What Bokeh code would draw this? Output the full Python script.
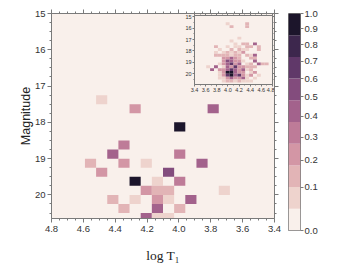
import math
import numpy as np
from bokeh.plotting import figure
from bokeh.models import (Range1d, LinearAxis, FixedTicker,
                          PrintfTickFormatter, CustomJSTickFormatter, GridBox, Label,
                          ColumnDataSource)
from bokeh.embed import file_html
from bokeh.resources import INLINE

# ---------------- data ----------------
main_logT = [4.485, 4.275, 3.785, 3.995, 4.345, 4.415, 3.995, 4.555, 4.345, 4.205,
             3.855, 4.485, 4.065, 4.275, 4.135, 3.995, 4.205, 4.135, 4.065, 3.715,
             4.415, 4.275, 4.135, 4.065, 3.925, 4.345, 4.135, 3.995, 4.205, 4.135, 4.065]
main_mag = [17.375, 17.625, 17.625, 18.125, 18.625, 18.875, 18.875, 19.125, 19.125, 19.125,
            19.125, 19.375, 19.375, 19.625, 19.625, 19.625, 19.875, 19.875, 19.875, 19.875,
            20.125, 20.125, 20.125, 20.125, 20.125, 20.375, 20.375, 20.375, 20.625, 20.625, 20.625]
main_prob = [0.07, 0.22, 0.43, 1.0, 0.32, 0.43, 0.32, 0.14, 0.22, 0.07,
             0.43, 0.22, 0.5, 1.0, 0.07, 0.32, 0.22, 0.14, 0.14, 0.07,
             0.14, 0.07, 0.22, 0.07, 0.43, 0.14, 0.43, 0.14, 0.43, 0.07, 0.07]

inset_mag_rows = [15.625, 15.875, 16.875, 17.125, 17.375, 17.625, 17.875, 18.125, 18.375,
                  18.625, 18.875, 19.125, 19.375, 19.625, 19.875, 20.125, 20.375, 20.625]
inset_logT_rows = [
    [3.995, 4.345],
    [4.065, 4.345],
    [4.205],
    [4.065],
    [4.135, 4.275, 4.345, 4.485],
    [3.785, 3.995, 4.135, 4.205, 4.345, 4.415, 4.555],
    [3.855, 4.065, 4.205, 4.275, 4.345, 4.555],
    [3.785, 3.925, 3.995, 4.065, 4.135, 4.205, 4.275],
    [3.785, 3.855, 3.925, 3.995, 4.065, 4.135, 4.205, 4.345, 4.415, 4.485],
    [3.925, 3.995, 4.065, 4.135, 4.205, 4.415, 4.485],
    [3.925, 3.995, 4.065, 4.135, 4.205, 4.275, 4.485],
    [3.855, 3.925, 3.995, 4.065, 4.135, 4.205, 4.345, 4.415, 4.555, 4.625, 4.695],
    [3.645, 3.785, 3.925, 3.995, 4.065, 4.135, 4.205, 4.275, 4.345, 4.415, 4.485],
    [3.715, 3.855, 3.925, 3.995, 4.065, 4.135, 4.205, 4.275, 4.345, 4.415],
    [3.855, 3.925, 3.995, 4.065, 4.135, 4.205, 4.275, 4.415, 4.485],
    [3.855, 3.925, 3.995, 4.065, 4.135, 4.205, 4.275, 4.345, 4.415, 4.555],
    [3.855, 3.925, 3.995, 4.065, 4.135, 4.205, 4.275, 4.345, 4.485],
    [3.925, 3.995, 4.065, 4.135, 4.205, 4.275, 4.345, 4.415],
]
inset_val_rows = [
    [0.07, 0.14],
    [0.14, 0.14],
    [0.07],
    [0.07],
    [0.07, 0.14, 0.14, 0.43],
    [0.14, 0.07, 0.07, 0.07, 0.14, 0.14, 0.14],
    [0.07, 0.14, 0.14, 0.07, 0.07, 0.14],
    [0.07, 0.07, 0.14, 0.07, 0.14, 0.07, 0.22],
    [0.14, 0.14, 0.14, 0.14, 0.07, 0.14, 0.14, 0.14, 0.07, 0.43],
    [0.22, 0.22, 0.43, 0.22, 0.14, 0.14, 0.14],
    [0.22, 0.54, 0.43, 0.22, 0.22, 0.07, 0.43],
    [0.07, 0.22, 0.43, 0.66, 0.22, 0.43, 0.07, 0.14, 0.43, 0.14, 0.14],
    [0.07, 0.43, 0.07, 0.43, 0.22, 0.66, 0.22, 0.22, 0.14, 0.14, 0.14],
    [0.43, 0.22, 0.22, 0.43, 0.66, 0.43, 0.22, 0.43, 0.07, 0.14],
    [0.07, 0.22, 0.95, 0.95, 0.43, 0.22, 0.22, 0.07, 0.22],
    [0.07, 0.22, 0.66, 0.95, 0.43, 0.66, 0.22, 0.07, 0.22, 0.07],
    [0.07, 0.07, 0.22, 0.43, 0.22, 0.22, 0.43, 0.07, 0.07],
    [0.07, 0.14, 0.14, 0.07, 0.14, 0.07, 0.07, 0.07],
]

cb_ticks = [0.0, 0.1, 0.2, 0.3, 0.4, 0.5, 0.6, 0.7, 0.8, 0.9, 1.0]
x_ticks = [4.8, 4.6, 4.4, 4.2, 4.0, 3.8, 3.6, 3.4]
y_ticks = [15, 16, 17, 18, 19, 20]
x_minor = [round(3.4 + 0.05 * i, 2) for i in range(29)]
y_minor = [15 + 0.25 * i for i in range(23)]
ix_minor = [round(3.4 + 0.1 * i, 2) for i in range(15)]
iy_minor = [15 + 0.5 * i for i in range(12)]

# ---------------- colours ----------------
GAMMA = 0.7
N_BANDS = 10


def cubehelix(x, start=0.0, rot=0.4, gamma=1.0, hue=0.8):
    xg = x ** gamma
    a = hue * xg * (1 - xg) / 2
    phi = 2 * math.pi * (start / 3 + rot * x)
    r = xg + a * (-0.14861 * math.cos(phi) + 1.78277 * math.sin(phi))
    g = xg + a * (-0.29227 * math.cos(phi) - 0.90649 * math.sin(phi))
    b = xg + a * (1.97294 * math.cos(phi))
    clip = lambda v: int(round(max(0, min(1, v)) * 255))
    return "#%02x%02x%02x" % (clip(r), clip(g), clip(b))


palette = [cubehelix(x) for x in np.linspace(0.95, 0.1, N_BANDS)]


def color_of(v):
    band = min(int((v ** GAMMA) * N_BANDS), N_BANDS - 1)
    return palette[band]


GRAY = "#7a7a7a"
TXT = "#333333"
FONT = "Liberation Sans"

inset_mag, inset_logT, inset_val = [], [], []
for m, xs, vs in zip(inset_mag_rows, inset_logT_rows, inset_val_rows):
    for xv, vv in zip(xs, vs):
        inset_mag.append(m)
        inset_logT.append(xv)
        inset_val.append(vv)

main_src = ColumnDataSource(dict(logT=main_logT, mag=main_mag,
                                 color=[color_of(v) for v in main_prob]))
inset_src = ColumnDataSource(dict(logT=inset_logT, mag=inset_mag,
                                  color=[color_of(v) for v in inset_val]))


def style_axis(ax, tick_out, minor_out, font_size, show_labels=True):
    ax.axis_line_color = GRAY
    ax.major_tick_line_color = GRAY
    ax.minor_tick_line_color = GRAY
    ax.major_tick_in = 0
    ax.major_tick_out = tick_out
    ax.minor_tick_in = 0
    ax.minor_tick_out = minor_out
    ax.major_label_text_font = FONT
    ax.major_label_text_color = TXT
    ax.major_label_text_font_size = font_size
    ax.major_label_standoff = 1
    if not show_labels:
        ax.major_label_text_font_size = "0px"
        ax.formatter = CustomJSTickFormatter(code="return '';")
        ax.major_label_standoff = 0


# ---------------- main figure ----------------
p = figure(frame_width=223, frame_height=217,
           x_range=Range1d(4.8, 3.4), y_range=Range1d(20.65, 15.0),
           min_border_left=43, min_border_right=8, min_border_top=5, min_border_bottom=35,
           background_fill_color=palette[0], border_fill_color="white",
           outline_line_color=None, output_backend="svg", toolbar_location=None)
p.grid.visible = False
p.rect(x="logT", y="mag", width=0.07, height=0.25, fill_color="color",
       line_color=None, source=main_src)

xa = p.xaxis[0]
ya = p.yaxis[0]
xa.ticker = FixedTicker(ticks=x_ticks, minor_ticks=x_minor)
ya.ticker = FixedTicker(ticks=y_ticks, minor_ticks=y_minor)
xa.formatter = PrintfTickFormatter(format="%.1f")
ya.formatter = PrintfTickFormatter(format="%d")
style_axis(xa, 4, 2, "9.5px")
style_axis(ya, 4, 2, "9.5px")
xa.major_label_standoff = 3
ya.major_label_standoff = 2
xa.axis_label = "log T\u2081"
xa.axis_label_text_font = "Liberation Serif"
xa.axis_label_text_font_style = "normal"
xa.axis_label_text_font_size = "13.5px"
xa.axis_label_text_color = "#222222"
xa.axis_label_standoff = 13
ya.axis_label = "Magnitude"
ya.axis_label_text_font = FONT
ya.axis_label_text_font_style = "normal"
ya.axis_label_text_font_size = "12.5px"
ya.axis_label_text_color = "#222222"
ya.axis_label_standoff = -1

top_ax = LinearAxis(ticker=FixedTicker(ticks=x_ticks, minor_ticks=x_minor))
right_ax = LinearAxis(ticker=FixedTicker(ticks=y_ticks, minor_ticks=y_minor))
style_axis(top_ax, 4, 2, "9.5px", show_labels=False)
style_axis(right_ax, 4, 2, "9.5px", show_labels=False)
p.add_layout(top_ax, "above")
p.add_layout(right_ax, "right")

# ---------------- inset ----------------
pin = figure(frame_width=78, frame_height=70,
             x_range=Range1d(3.4, 4.8), y_range=Range1d(20.93, 14.9),
             min_border_left=14, min_border_right=2, min_border_top=1, min_border_bottom=11,
             background_fill_color=palette[0], border_fill_color=None,
             outline_line_color=None, output_backend="svg", toolbar_location=None)
pin.grid.visible = False
pin.rect(x="logT", y="mag", width=0.07, height=0.25, fill_color="color",
         line_color=None, source=inset_src)
ixa = pin.xaxis[0]
iya = pin.yaxis[0]
ixa.ticker = FixedTicker(ticks=x_ticks, minor_ticks=ix_minor)
iya.ticker = FixedTicker(ticks=y_ticks, minor_ticks=iy_minor)
ixa.formatter = PrintfTickFormatter(format="%.1f")
iya.formatter = PrintfTickFormatter(format="%d")
style_axis(ixa, 2, 1, "5.5px")
style_axis(iya, 2, 1, "5.5px")
itop = LinearAxis(ticker=FixedTicker(ticks=x_ticks, minor_ticks=ix_minor))
iright = LinearAxis(ticker=FixedTicker(ticks=y_ticks, minor_ticks=iy_minor))
style_axis(itop, 2, 1, "5px", show_labels=False)
style_axis(iright, 2, 1, "5px", show_labels=False)
pin.add_layout(itop, "above")
pin.add_layout(iright, "right")

# ---------------- colour bar ----------------
cb = figure(frame_width=12, frame_height=217,
            x_range=Range1d(0, 1), y_range=Range1d(0, 1),
            min_border_left=6, min_border_right=33, min_border_top=5, min_border_bottom=35,
            x_axis_location=None, y_axis_location="right",
            outline_line_color=GRAY, border_fill_color="white",
            output_backend="svg", toolbar_location=None)
cb.grid.visible = False
band_lo = [i / N_BANDS for i in range(N_BANDS)]
band_hi = [(i + 1) / N_BANDS for i in range(N_BANDS)]
cb.quad(left=0, right=1, bottom=band_lo, top=band_hi, fill_color=palette, line_color=None)
cax = cb.yaxis[0]
cax.ticker = FixedTicker(ticks=[t ** GAMMA for t in cb_ticks], minor_ticks=[])
cax.formatter = CustomJSTickFormatter(code="return Math.pow(tick, 1/%s).toFixed(1);" % GAMMA)
style_axis(cax, 3, 0, "9.5px")
cax.axis_line_color = None
cax.major_label_standoff = 1
cb.add_layout(Label(x=3.17, y=0.5, text="Detection probability", angle=90, angle_units="deg",
                    text_align="center", text_baseline="middle", text_font=FONT,
                    text_font_size="12.5px", text_color="#222222"))

grid = GridBox(children=[(p, 0, 0, 3, 2), (cb, 0, 2, 3, 1), (pin, 1, 1, 1, 1)],
               rows=["5px", "82px", "170px"], cols=["172px", "102px", "51px"], spacing=0,
               margin=(8, 0, 0, 8))

open("out.html", "w").write(file_html(grid, INLINE))
